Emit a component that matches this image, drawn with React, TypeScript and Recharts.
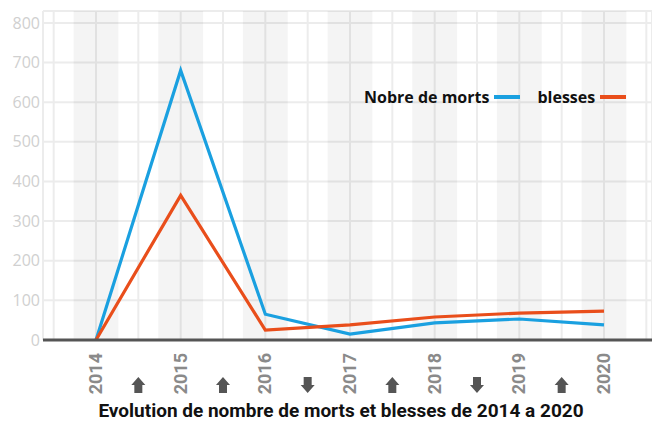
import {
  LineChart,
  Line,
  XAxis,
  YAxis,
  CartesianGrid,
  ReferenceArea,
} from "recharts";

const years = [2014, 2015, 2016, 2017, 2018, 2019, 2020];
const morts = [0, 680, 65, 15, 43, 53, 38];
const blesses = [0, 365, 25, 38, 58, 68, 73];
// trend arrows drawn between consecutive years
const trends = ["up", "up", "down", "up", "down", "up"];
const yTicks = [0, 100, 200, 300, 400, 500, 600, 700, 800];
const title = "Evolution de nombre de morts et blesses de 2014 a 2020";

const BLUE = "#1aa0e0";
const RED = "#e94e1b";

const data = years.map((year, i) => ({ year, morts: morts[i], blesses: blesses[i] }));
const xTicks = [years[0] - 0.5, ...years.flatMap((y) => [y, y + 0.5])];

function YearTick(props: any) {
  const { x, y, payload } = props;
  const v: number = payload.value;
  if (Number.isInteger(v)) {
    return (
      <text
        x={x + 6}
        y={y + 13}
        transform={`rotate(-90, ${x + 6}, ${y + 13})`}
        textAnchor="end"
        fill="#8a8a8a"
        fontSize={18}
        fontWeight={700}
        fontFamily="Roboto, sans-serif"
      >
        {v}
      </text>
    );
  }
  const idx = Math.floor(v) - years[0];
  const dir = trends[idx];
  if (!dir) return <g />;
  const top = y + 37;
  const path =
    dir === "up"
      ? `M${x} ${top} L${x + 7} ${top + 8} L${x + 4} ${top + 8} L${x + 4} ${top + 16} L${x - 4} ${top + 16} L${x - 4} ${top + 8} L${x - 7} ${top + 8} Z`
      : `M${x} ${top + 16} L${x + 7} ${top + 8} L${x + 4} ${top + 8} L${x + 4} ${top} L${x - 4} ${top} L${x - 4} ${top + 8} L${x - 7} ${top + 8} Z`;
  return <path d={path} fill="#555" />;
}

function LegendBox() {
  const text = { fontFamily: "'Open Sans', sans-serif", fontWeight: 700, fontSize: 16, color: "#111" };
  const bar = (c: string) => (
    <span style={{ display: "inline-block", width: 26, height: 4, background: c, marginLeft: 5 }} />
  );
  return (
    <div
      style={{
        position: "absolute",
        top: 86,
        left: 364,
        display: "flex",
        alignItems: "center",
        whiteSpace: "nowrap",
      }}
    >
      <span style={text}>Nobre de morts</span>
      {bar(BLUE)}
      <span style={{ ...text, marginLeft: 17 }}>blesses</span>
      {bar(RED)}
    </div>
  );
}

export default function App() {
  return (
    <div style={{ position: "relative", width: 652, height: 424, background: "#fff" }}>
      <style>{`body{margin:0}`}</style>
      <LineChart width={652} height={424} data={data} margin={{ top: 11, right: 0, left: 0, bottom: 24 }}>
        {years.map((y) => (
          <ReferenceArea key={y} x1={y - 0.265} x2={y + 0.265} fill="#000" fillOpacity={0.045} stroke="none" />
        ))}
        <CartesianGrid stroke="#ececec" strokeWidth={2} />
        <XAxis
          dataKey="year"
          type="number"
          domain={[2013.374, 2020.567]}
          ticks={xTicks}
          interval={0}
          height={60}
          tickSize={0}
          tickMargin={0}
          axisLine={{ stroke: "#555", strokeWidth: 3 }}
          tickLine={false}
          tick={<YearTick />}
        />
        <YAxis
          domain={[0, 830]}
          ticks={yTicks}
          width={43}
          tickSize={0}
          tickMargin={3}
          axisLine={false}
          tickLine={false}
          tick={{ fill: "#d0d0d0", fontSize: 16, fontFamily: "'Open Sans', sans-serif" }}
        />
        <Line dataKey="morts" stroke={BLUE} strokeWidth={3.2} dot={false} isAnimationActive={false} />
        <Line dataKey="blesses" stroke={RED} strokeWidth={3.2} dot={false} isAnimationActive={false} />
      </LineChart>
      <LegendBox />
      <div
        style={{
          position: "absolute",
          top: 400,
          left: 341,
          transform: "translateX(-50%)",
          whiteSpace: "nowrap",
          fontFamily: "Roboto, sans-serif",
          fontWeight: 700,
          fontSize: 19,
          lineHeight: "22px",
          color: "#111",
        }}
      >
        {title}
      </div>
    </div>
  );
}
